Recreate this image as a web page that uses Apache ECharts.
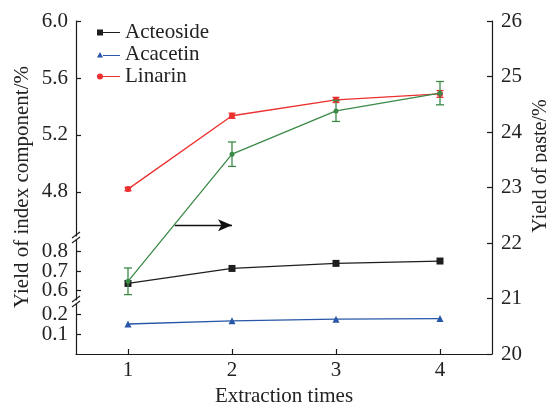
<!DOCTYPE html>
<html>
<head>
<meta charset="utf-8">
<script src="https://cdn.jsdelivr.net/npm/echarts@6/dist/echarts.min.js"></script>
<style>html,body{margin:0;padding:0;background:#fff}#c{width:547px;height:405px}</style>
</head>
<body>
<div id="c"></div>
<script>
// ---- data ----
var categories = [1, 2, 3, 4];
var acteoside = [0.637, 0.714, 0.740, 0.752];
var acacetin = [0.150, 0.166, 0.174, 0.177];
var linarin = [4.82, 5.335, 5.446, 5.488];
var linarinErr = [0.012, 0.018, 0.018, 0.024];
var paste = [21.31, 23.60, 24.38, 24.70];
var pasteErr = [0.24, 0.22, 0.19, 0.21];
var topTicks = [4.8, 5.2, 5.6, 6.0];
var midTicksA = [0.6, 0.8];
var midTicksB = [0.7];
var lowTicksA = [0.1];
var lowTicksB = [0.2];
var arrowFrom = [1.45, 22.32];
var arrowTo = [2.0, 22.32];

var FONT = '"Liberation Serif","DejaVu Serif",serif';
var AX = '#1a1a1a';
var cBlack = '#1e1e1e', cBlue = '#2857a8', cRed = '#ec2f2f', cGreen = '#3b8a47';

function pairs(vals) { return categories.map(function (c, i) { return [c, vals[i]]; }); }
function errData(vals, errs) { return categories.map(function (c, i) { return [c, vals[i] - errs[i], vals[i] + errs[i]]; }); }
function errRender(color, cap) {
  return function (params, api) {
    var lo = api.coord([api.value(0), api.value(1)]);
    var hi = api.coord([api.value(0), api.value(2)]);
    var st = { stroke: color, lineWidth: 1.3 };
    return { type: 'group', children: [
      { type: 'line', shape: { x1: lo[0], y1: lo[1], x2: hi[0], y2: hi[1] }, style: st },
      { type: 'line', shape: { x1: lo[0] - cap, y1: lo[1], x2: lo[0] + cap, y2: lo[1] }, style: st },
      { type: 'line', shape: { x1: hi[0] - cap, y1: hi[1], x2: hi[0] + cap, y2: hi[1] }, style: st }
    ]};
  };
}

var G = { left: 76, width: 416 };
function grid(top, height) {
  return { left: G.left, width: G.width, top: top, height: height, containLabel: false, outerBoundsMode: 'none' };
}
function tickStyle(vals) {
  var t = { show: true, inside: true, length: 5, lineStyle: { color: AX, width: 1.2 } };
  if (vals) t.customValues = vals;
  return t;
}
function xAx(gi, show) {
  return {
    type: 'value', gridIndex: gi, min: 0.5, max: 4.5, interval: 1, show: show,
    axisLine: { show: true, onZero: false, lineStyle: { color: AX, width: 1.2 } },
    axisTick: tickStyle(categories),
    axisLabel: { show: true, color: '#222', fontFamily: FONT, fontSize: 21, margin: 6, customValues: categories },
    splitLine: { show: false },
    name: show ? 'Extraction times' : '', nameLocation: 'middle', nameGap: 23,
    nameTextStyle: { color: '#222', fontFamily: FONT, fontSize: 21 }
  };
}
function yLeft(gi, min, max, ticks, showLine) {
  return {
    type: 'value', gridIndex: gi, min: min, max: max, position: 'left',
    axisLine: { show: showLine, onZero: false, lineStyle: { color: AX, width: 1.2 } },
    axisTick: tickStyle(ticks),
    axisLabel: { color: '#222', fontFamily: FONT, fontSize: 21, margin: 8, customValues: ticks,
      hideOverlap: false, showMinLabel: true, showMaxLabel: true,
      formatter: function (v) { return v.toFixed(1); } },
    splitLine: { show: false }
  };
}

var option = {
  animation: false,
  backgroundColor: '#fff',
  grid: [grid(21, 215), grid(240, 60), grid(304, 50), grid(21, 333)],
  xAxis: [xAx(0, false), xAx(1, false), xAx(2, false), xAx(3, true)],
  yAxis: [
    yLeft(0, 4.491, 6.0, topTicks, true),
    yLeft(1, 0.552, 0.86, midTicksA, true),
    yLeft(2, 0, 0.25, lowTicksA, true),
    {
      type: 'value', gridIndex: 3, min: 20, max: 26, interval: 1, position: 'right',
      axisLine: { show: true, onZero: false, lineStyle: { color: AX, width: 1.2 } },
      axisTick: tickStyle(null),
      axisLabel: { color: '#222', fontFamily: FONT, fontSize: 21, margin: 9 },
      splitLine: { show: false }
    },
    yLeft(1, 0.552, 0.86, midTicksB, false),
    yLeft(2, 0, 0.25, lowTicksB, false)
  ],
  legend: {
    orient: 'vertical', left: 92, top: 17, itemGap: 1, itemWidth: 23, itemHeight: 6,
    textStyle: { color: '#222', fontFamily: FONT, fontSize: 21, lineHeight: 20 },
    data: [
      { name: 'Acteoside', icon: 'path://M0,0H6V6H0Z M6,2.4H23V3.6H6Z' },
      { name: 'Acacetin', icon: 'path://M0,6L3,0.5L6,6Z M6,3.4H23V4.6H6Z M0,0H0.01V0.01H0Z' },
      { name: 'Linarin', icon: 'path://M0,3A3,3 0 1 1 6,3A3,3 0 1 1 0,3Z M6,2.4H23V3.6H6Z' }
    ]
  },
  graphic: [
    { type: 'text', x: 22, y: 187, rotation: Math.PI / 2,
      style: { text: 'Yield of index component/%', font: '21px ' + FONT, fill: '#222', align: 'center', verticalAlign: 'middle' } },
    { type: 'text', x: 541, y: 166, rotation: Math.PI / 2,
      style: { text: 'Yield of paste/%', font: '20px ' + FONT, fill: '#222', align: 'center', verticalAlign: 'middle' } },
    { type: 'line', shape: { x1: 72, y1: 238, x2: 80, y2: 232 }, style: { stroke: AX, lineWidth: 1.1 } },
    { type: 'line', shape: { x1: 72, y1: 243, x2: 80, y2: 237 }, style: { stroke: AX, lineWidth: 1.1 } },
    { type: 'line', shape: { x1: 72, y1: 302, x2: 80, y2: 296 }, style: { stroke: AX, lineWidth: 1.1 } },
    { type: 'line', shape: { x1: 72, y1: 307, x2: 80, y2: 301 }, style: { stroke: AX, lineWidth: 1.1 } }
  ],
  series: [
    { name: 'Linarin', type: 'line', xAxisIndex: 0, yAxisIndex: 0, data: pairs(linarin),
      symbol: 'circle', symbolSize: 6, itemStyle: { color: cRed }, lineStyle: { color: cRed, width: 1.3 }, z: 3 },
    { type: 'custom', xAxisIndex: 0, yAxisIndex: 0, data: errData(linarin, linarinErr),
      renderItem: errRender(cRed, 3.5), z: 3, silent: true },
    { name: 'Acteoside', type: 'line', xAxisIndex: 1, yAxisIndex: 1, data: pairs(acteoside),
      symbol: 'rect', symbolSize: 7, itemStyle: { color: cBlack }, lineStyle: { color: cBlack, width: 1.3 }, z: 3 },
    { name: 'Acacetin', type: 'line', xAxisIndex: 2, yAxisIndex: 2, data: pairs(acacetin),
      symbol: 'triangle', symbolSize: 7, itemStyle: { color: cBlue }, lineStyle: { color: cBlue, width: 1.3 }, z: 3 },
    { name: 'Paste', type: 'line', xAxisIndex: 3, yAxisIndex: 3, data: pairs(paste),
      symbol: 'circle', symbolSize: 5, itemStyle: { color: cGreen }, lineStyle: { color: cGreen, width: 1.3 }, z: 4,
      markLine: { silent: true, symbol: ['none', 'arrow'], symbolSize: [9, 14], label: { show: false },
        lineStyle: { color: '#111', width: 1.3, type: 'solid' },
        data: [[{ coord: arrowFrom }, { coord: arrowTo }]] } },
    { type: 'custom', xAxisIndex: 3, yAxisIndex: 3, data: errData(paste, pasteErr),
      renderItem: errRender(cGreen, 4), z: 4, silent: true }
  ]
};
var chart = echarts.init(document.getElementById('c'), null, { renderer: 'canvas' });
chart.setOption(option);
</script>
</body>
</html>
